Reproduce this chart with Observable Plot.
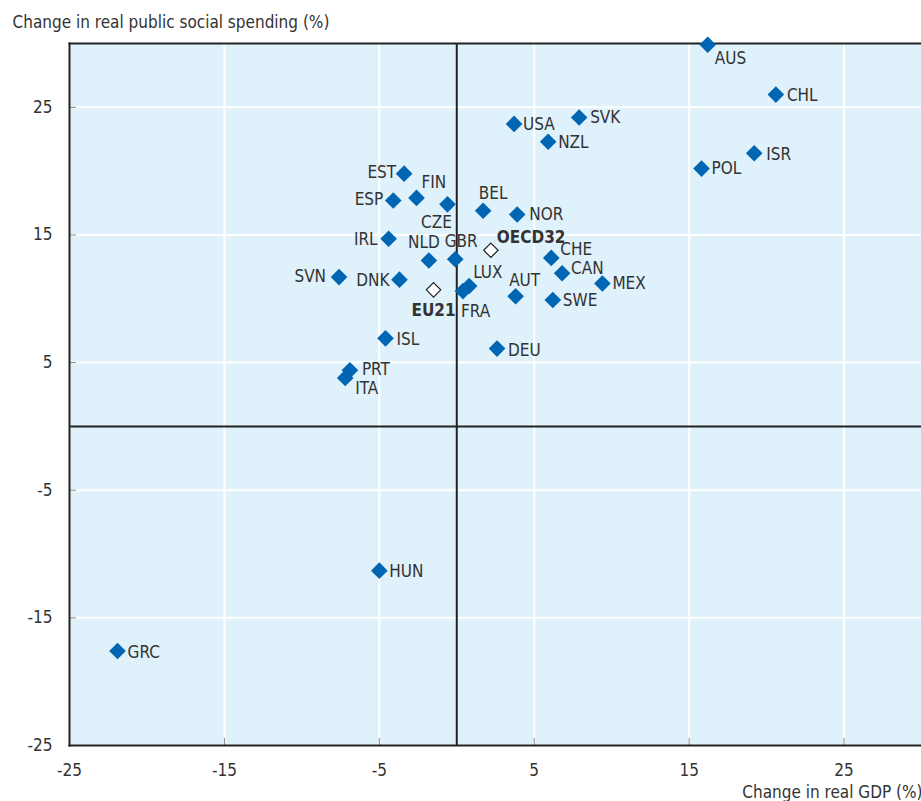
<!DOCTYPE html>
<html><head><meta charset="utf-8">
<script src="https://cdn.jsdelivr.net/npm/d3@7"></script>
<script src="https://cdn.jsdelivr.net/npm/@observablehq/plot@0.6"></script>
<style>body{margin:0;background:#fff}</style>
</head><body><div id="chart"></div>
<script>
const codes = ["AUS","CHL","ISR","POL","SVK","USA","NZL","EST","FIN","ESP","CZE","BEL","NOR","IRL","NLD","GBR","OECD32","CHE","CAN","MEX","SVN","DNK","EU21","LUX","FRA","AUT","SWE","ISL","DEU","PRT","ITA","HUN","GRC"];
const gdpChange = [16.2,20.6,19.2,15.8,7.9,3.7,5.9,-3.4,-2.6,-4.1,-0.6,1.7,3.9,-4.4,-1.8,-0.1,2.2,6.1,6.8,9.4,-7.6,-3.7,-1.5,0.8,0.4,3.8,6.2,-4.6,2.6,-6.9,-7.2,-5.0,-21.9];
const spendingChange = [29.9,26.0,21.4,20.2,24.2,23.7,22.3,19.8,17.9,17.7,17.4,16.9,16.6,14.7,13.0,13.1,13.8,13.2,12.0,11.2,11.7,11.5,10.7,11.0,10.6,10.2,9.9,6.9,6.1,4.4,3.8,-11.3,-17.6];
const averages = ["OECD32","EU21"];
const ticks = [-25,-15,-5,5,15,25];
const yTitle = "Change in real public social spending (%)";
const xTitle = "Change in real GDP (%)";

const data = codes.map((c,i)=>({code:c, x:gdpChange[i], y:spendingChange[i], avg: averages.includes(c)}));

// label placement: [code, dx, dy, anchor]
const placement = [
 ["AUS",7,14,"start"],["CHL",11,1,"start"],["ISR",12,1,"start"],["POL",10,0,"start"],
 ["SVK",11,0,"start"],["USA",9,1,"start"],["NZL",10,1,"start"],["EST",-8,-1,"end"],
 ["FIN",5,-15,"start"],["ESP",-10,-1,"end"],["CZE",-11,18,"middle"],["BEL",10,-17,"middle"],
 ["NOR",12,0,"start"],["IRL",-11,1,"end"],["NLD",-5,-18,"middle"],["GBR",6,-18,"middle"],
 ["OECD32",6,-13,"start"],["CHE",9,-8,"start"],["CAN",9,-5,"start"],["MEX",10,0,"start"],
 ["SVN",-13,-1,"end"],["DNK",-10,1,"end"],["EU21",0,21,"middle"],["LUX",4,-13,"start"],
 ["FRA",-2,20,"start"],["AUT",9,-16,"middle"],["SWE",10,0,"start"],["ISL",11,1,"start"],
 ["DEU",11,2,"start"],["PRT",12,-1,"start"],["ITA",10,11,"start"],["HUN",10,1,"start"],["GRC",10,1,"start"]
];

const font = "'Liberation Sans Narrow','Arial Narrow','DejaVu Sans Condensed',sans-serif";
const ink = "#333";
const fs = 17;

const labelMarks = placement.map(([c,dx,dy,a]) => Plot.text(data, {
  filter: d => d.code === c, x: "x", y: "y", text: "code", dx, dy, textAnchor: a,
  fill: ink, fontSize: fs, fontWeight: averages.includes(c) ? "bold" : "normal"
}));

const chart = Plot.plot({
  width: 921, height: 801,
  marginTop: 43, marginBottom: 56, marginLeft: 69, marginRight: 0,
  style: {fontFamily: font, fontSize: fs + "px", color: ink, background: "#fff"},
  x: {domain: [-25, 30], ticks: ticks, label: null},
  y: {domain: [-25, 30], ticks: ticks, label: null},
  marks: [
    Plot.frame({fill: "#dff1fb", stroke: "none"}),
    Plot.gridX(ticks, {stroke: "#fff", strokeOpacity: 1, strokeWidth: 2}),
    Plot.gridY(ticks, {stroke: "#fff", strokeOpacity: 1, strokeWidth: 2}),
    Plot.axisY(ticks, {tickSize: -7, stroke: "#888", text: null, label: null}),
    Plot.axisX(ticks, {tickSize: -7, stroke: "#888", text: null, label: null}),
    Plot.axisY(ticks, {tickSize: 0, tickPadding: 17, label: null, fill: ink, fontSize: fs, tickFormat: d => String(d)}),
    Plot.axisX(ticks, {tickSize: 0, tickPadding: 18, label: null, fill: ink, fontSize: fs, tickFormat: d => String(d)}),
    Plot.ruleX([0], {stroke: "#222", strokeWidth: 2}),
    Plot.ruleY([0], {stroke: "#222", strokeWidth: 2}),
    Plot.frame({anchor: "top", stroke: "#222", strokeWidth: 2}),
    Plot.frame({anchor: "left", stroke: "#222", strokeWidth: 2}),
    Plot.frame({anchor: "bottom", stroke: "#222", strokeWidth: 2}),
    Plot.dot(data.filter(d => !d.avg), {x: "x", y: "y", symbol: "diamond2", r: 7.5, fill: "#0066b3", stroke: "none"}),
    Plot.dot(data.filter(d => d.avg), {x: "x", y: "y", symbol: "diamond2", r: 6.5, fill: "#fff", stroke: "#222", strokeWidth: 1.2}),
    ...labelMarks,
    Plot.text([yTitle], {frameAnchor: "top-left", dx: -57, dy: -21, lineAnchor: "middle", textAnchor: "start", fill: ink, fontSize: fs}),
    Plot.text([xTitle], {frameAnchor: "bottom-right", dx: 1, dy: 47, lineAnchor: "middle", textAnchor: "end", fill: ink, fontSize: fs})
  ]
});
document.getElementById("chart").appendChild(chart);
</script>
</body></html>
